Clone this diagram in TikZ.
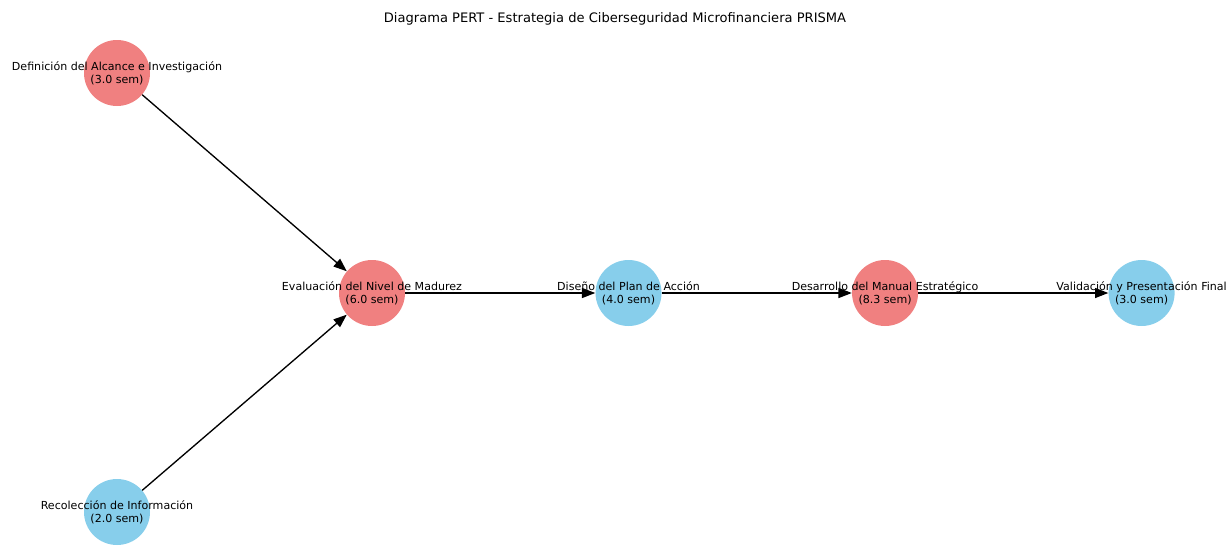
\documentclass[tikz,border=0pt]{standalone}
\usepackage{fontspec}
\setmainfont{DejaVu Sans}
\usetikzlibrary{positioning,arrows.meta}
\definecolor{critred}{RGB}{240,128,128}
\definecolor{normblue}{RGB}{135,206,235}

\begin{document}
\begin{tikzpicture}[x=0.75pt,y=-0.75pt,
  task/.style={circle,minimum size=49.5pt,inner sep=0pt},
  crit/.style={task,fill=critred},
  norm/.style={task,fill=normblue},
  lab/.style={font=\fontsize{8.3}{9.8}\selectfont,align=center,inner sep=0pt},
  ar/.style={-{Triangle[length=10pt,width=7.5pt]},line width=1pt},
  node distance=142.5pt]
\useasboundingbox (0,0) rectangle (1230,546);
\node[font=\fontsize{9.8}{12}\selectfont] (title) at (615,19)
  {Diagrama PERT - Estrategia de Ciberseguridad Microfinanciera PRISMA};
% activities
\node[crit] (alc) at (117,73) {};
\node[norm] (rec) at (117,512) {};
\node[crit] (eva) at (372,293) {};
\node[norm,right=of eva] (dis) {};
\node[crit,right=of dis] (man) {};
\node[norm,right=of man] (val) {};
% dependencies
\draw[ar] (alc)--(eva);
\draw[ar] (rec)--(eva);
\draw[ar] (eva)--(dis);
\draw[ar] (dis)--(man);
\draw[ar] (man)--(val);
% labels
\node[lab] (alc-t) at (alc) {Definición del Alcance e Investigación\\(3.0 sem)};
\node[lab] (rec-t) at (rec) {Recolección de Información\\(2.0 sem)};
\node[lab] (eva-t) at (eva) {Evaluación del Nivel de Madurez\\(6.0 sem)};
\node[lab] (dis-t) at (dis) {Diseño del Plan de Acción\\(4.0 sem)};
\node[lab] (man-t) at (man) {Desarrollo del Manual Estratégico\\(8.3 sem)};
\node[lab] (val-t) at (val) {Validación y Presentación Final\\(3.0 sem)};
\end{tikzpicture}
\end{document}
